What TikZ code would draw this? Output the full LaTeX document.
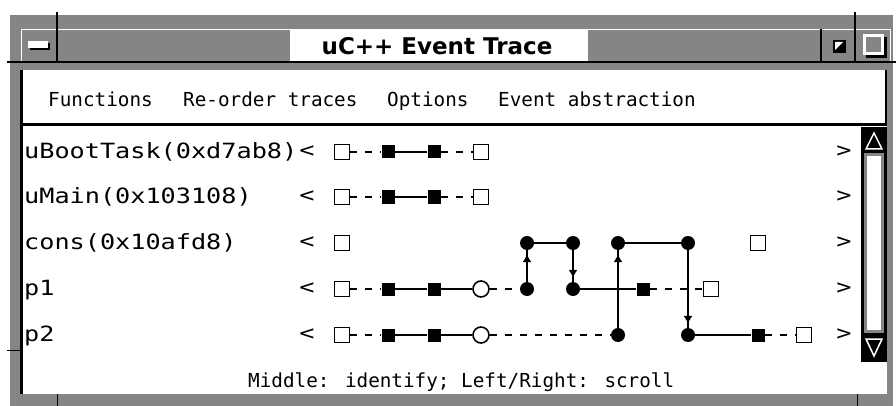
\documentclass[tikz,border=0pt]{standalone}
\usepackage{fontspec}
\usepackage{tikz}
\usetikzlibrary{arrows.meta,positioning}
\newfontfamily\titlefont{DejaVu Sans}
\newfontfamily\menufont{DejaVu Sans Mono}
\newfontfamily\rowfont{DejaVu Sans Mono}[FakeStretch=1.2]
\colorlet{stipple}{black!48}

\begin{document}
\begin{tikzpicture}[x=1pt, y=-1pt,
  opensq/.style={draw, line width=1.6pt, fill=white, minimum size=15pt, inner sep=0pt},
  fullsq/.style={fill=black, minimum size=13pt, inner sep=0pt},
  openev/.style={circle, draw, line width=1.6pt, fill=white, minimum size=16pt, inner sep=0pt},
  fullev/.style={circle, fill=black, minimum size=14pt, inner sep=0pt},
  link/.style={line width=1.6pt},
  dashlink/.style={line width=1.6pt, dash pattern=on 7pt off 8pt},
  msg/.style={line width=1.6pt, postaction={draw, -{Triangle[width=8pt,length=7pt]}, shorten >=5pt}},
  taskname/.style={font=\rowfont\fontsize{21}{21}\selectfont, anchor=base west, inner sep=0pt},
  scrollmark/.style={font=\rowfont\fontsize{21}{21}\selectfont, inner sep=0pt},
  menuitem/.style={font=\menufont\fontsize{19.3}{20}\selectfont, anchor=base west, inner sep=0pt},
]
\useasboundingbox (0,0) rectangle (896,406);

% window frame
\fill[stipple] (10,15) rectangle (893,406);
\draw[white, line width=1pt] (21,62) -- (21,29.5) -- (890,29.5) -- (890,62);
\fill[white] (290,30) rectangle (588,61);
\node[font=\titlefont\bfseries\fontsize{23}{23}\selectfont, anchor=base, inner sep=0pt] (title) at (437,55) {uC++ Event Trace};
\fill[black] (30,43) rectangle (50,50);
\fill[white] (28,41) rectangle (48,48);
\fill[black] (833,40) rectangle (846,53);
\fill[white] (835,42) -- (843,42) -- (835,50) -- cycle;
\fill[black] (866,37) rectangle (887,58);
\fill[white] (863,34) rectangle (884,55);
\fill[stipple] (866,37) rectangle (881,52);
\draw[line width=1.2pt] (57,12) -- (57,62);
\draw[line width=1.2pt] (821,29) -- (821,62);
\draw[line width=1.2pt] (855,12) -- (855,62);
\draw[line width=2pt] (7,62) -- (896,62);
\draw[line width=1pt] (7,350) -- (21,350);
\draw[line width=1pt] (57,394) -- (57,406);
\draw[line width=1pt] (857,394) -- (857,406);

% menu bar and trace area
\fill[white] (22,70) rectangle (887,394);
\draw[line width=3pt] (21.5,70) -- (21.5,394);
\draw[line width=3pt] (20,124.5) -- (887,124.5);
\draw[line width=2pt] (886,70) -- (886,124);
\node[menuitem] (functions) at (48,107) {Functions};
\node[menuitem] (reorder) at (183,107) {Re-order traces};
\node[menuitem] (options) at (387,107) {Options};
\node[menuitem] (abstraction) at (498,107) {Event abstraction};
\node[menuitem] (help) at (248,387) {Middle: identify; Left/Right: scroll};

% scroll bar
\fill[black] (861,127) rectangle (887,362);
\fill[stipple] (864,153) rectangle (884,333);
\fill[white] (867,156) rectangle (881,330);
\draw[white, line width=1.5pt] (874,133) -- (882,149) -- (866,149) -- cycle;
\draw[white, line width=1.5pt] (866,339) -- (882,339) -- (874,356) -- cycle;

% task names
\node[taskname] (boot) at (24,158.5) {uBootTask(0xd7ab8)};
\node[taskname] (main) at (24,203.5) {uMain(0x103108)};
\node[taskname] (cons) at (24,249.5) {cons(0x10afd8)};
\node[taskname] (pa) at (24,295.5) {p1};
\node[taskname] (pb) at (24,341.5) {p2};

\node[scrollmark] (boot-l) at (307,152) {<};
\node[scrollmark] (main-l) at (307,197) {<};
\node[scrollmark] (cons-l) at (307,243) {<};
\node[scrollmark] (pa-l) at (307,289) {<};
\node[scrollmark] (pb-l) at (307,335) {<};
\node[scrollmark] (boot-r) at (844,152) {>};
\node[scrollmark] (main-r) at (844,197) {>};
\node[scrollmark] (cons-r) at (844,243) {>};
\node[scrollmark] (pa-r) at (844,289) {>};
\node[scrollmark] (pb-r) at (844,335) {>};

% uBootTask
\node[opensq] (boot-s) at (342,152) {};
\node[fullsq] (boot-a) at (388,152) {};
\node[fullsq] (boot-b) at (434,152) {};
\node[opensq] (boot-e) at (481,152) {};
\draw[dashlink] (boot-s) -- (boot-a);
\draw[link] (boot-a) -- (boot-b);
\draw[dashlink] (boot-b) -- (boot-e);

% uMain
\node[opensq] (main-s) at (342,197) {};
\node[fullsq] (main-a) at (388,197) {};
\node[fullsq] (main-b) at (434,197) {};
\node[opensq] (main-e) at (481,197) {};
\draw[dashlink] (main-s) -- (main-a);
\draw[link] (main-a) -- (main-b);
\draw[dashlink] (main-b) -- (main-e);

% cons
\node[opensq] (cons-s) at (342,243) {};
\node[fullev] (cons-a) at (527,243) {};
\node[fullev] (cons-b) at (573,243) {};
\node[fullev] (cons-c) at (618,243) {};
\node[fullev] (cons-d) at (688,243) {};
\node[opensq] (cons-e) at (758,243) {};
\draw[link] (cons-a) -- (cons-b);
\draw[link] (cons-c) -- (cons-d);

% p1
\node[opensq] (pa-s) at (342,289) {};
\node[fullsq] (pa-a) at (388,289) {};
\node[fullsq] (pa-b) at (434,289) {};
\node[openev] (pa-o) at (481,289) {};
\node[fullev] (pa-c) at (527,289) {};
\node[fullev] (pa-d) at (573,289) {};
\node[fullsq] (pa-f) at (643,289) {};
\node[opensq] (pa-e) at (711,289) {};
\draw[dashlink] (pa-s) -- (pa-a);
\draw[link] (pa-a) -- (pa-b) -- (pa-o);
\draw[dashlink] (pa-o) -- (pa-c);
\draw[link] (pa-d) -- (pa-f);
\draw[dashlink] (pa-f) -- (pa-e);

% p2
\node[opensq] (pb-s) at (342,335) {};
\node[fullsq] (pb-a) at (388,335) {};
\node[fullsq] (pb-b) at (434,335) {};
\node[openev] (pb-o) at (481,335) {};
\node[fullev] (pb-c) at (618,335) {};
\node[fullev] (pb-d) at (688,335) {};
\node[fullsq] (pb-f) at (758,335) {};
\node[opensq] (pb-e) at (804,335) {};
\draw[dashlink] (pb-s) -- (pb-a);
\draw[link] (pb-a) -- (pb-b) -- (pb-o);
\draw[dashlink] (pb-o) -- (pb-c);
\draw[link] (pb-d) -- (pb-f);
\draw[dashlink] (pb-f) -- (pb-e);

% messages between tasks
\draw[msg] (pa-c) -- (cons-a);
\draw[msg] (cons-b) -- (pa-d);
\draw[msg] (pb-c) -- (cons-c);
\draw[msg] (cons-d) -- (pb-d);
\end{tikzpicture}
\end{document}
